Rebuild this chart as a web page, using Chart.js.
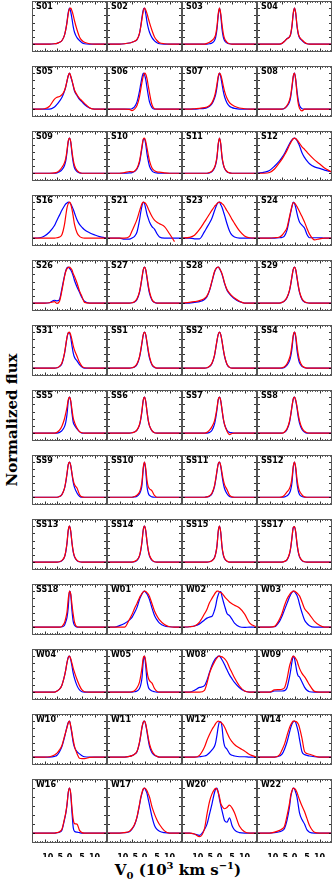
<!DOCTYPE html>
<html>
<head>
<meta charset="utf-8">
<title>Line profiles</title>
<script src="https://cdn.jsdelivr.net/npm/chart.js@4.4.1/dist/chart.umd.min.js"></script>
<style>
  body { margin: 0; background: #fff; }
  #fig { position: relative; width: 332px; height: 879px; overflow: hidden; }
  #fig canvas { position: absolute; display: block; }
  .name {
    position: absolute; z-index: 2;
    font: bold 8px "DejaVu Sans", sans-serif; line-height: 10px; color: #000;
  }
  .ytitle {
    position: absolute; left: 12px; top: 420px; white-space: nowrap;
    transform: translate(-50%, -50%) rotate(-90deg);
    font: bold 15px "DejaVu Serif", serif; color: #000;
  }
  .xtitle {
    position: absolute; left: 178px; top: 870px; white-space: nowrap;
    transform: translate(-50%, -50%);
    font: bold 15px "DejaVu Serif", serif; color: #000;
  }
  .xtitle sub, .xtitle sup { font-size: 10px; }
</style>
</head>
<body>
<div id="fig">
  <div class="ytitle">Normalized flux</div>
  <div class="xtitle">V<sub>0</sub> (10<sup>3</sup> km s<sup>−1</sup>)</div>
</div>
<script>
// ─── DATA ─────────────────────────────────────────────────────────
// velocity grid shared by every profile (10^3 km/s)
const velocity = [-15,-12,-10,-8, -6,-5,-4,-3, -2,-1.5,-1,-0.5, 0, 0.5,1,1.5,2, 3,4,5,6, 8,10,12,15];
const xTickValues = [-10, -5, 0, 5, 10];

// panel order: 13 rows x 4 columns
const panelNames = [
  "S01","S02","S03","S04",
  "S05","S06","S07","S08",
  "S09","S10","S11","S12",
  "S16","S21","S23","S24",
  "S26","S27","S28","S29",
  "S31","SS1","SS2","SS4",
  "SS5","SS6","SS7","SS8",
  "SS9","SS10","SS11","SS12",
  "SS13","SS14","SS15","SS17",
  "SS18","W01","W02","W03",
  "W04","W05","W08","W09",
  "W10","W11","W12","W14",
  "W16","W17","W20","W22"
];

// blue profile, one row per panel
const blueFlux = [
  [0,0,0,0, .01,.02,.05,.1, .25,.4,.62,.88, 1, .9,.7,.48,.33, .18,.1,.04,.01, 0,0,0,0],
  [0,0,0,.01, .03,.05,.08,.12, .3,.5,.75,.95, 1, .85,.62,.45,.33, .18,.09,.04,.01, 0,0,0,0],
  [0,0,0,0, 0,0,.01,.03, .1,.2,.42,.8, 1, .8,.42,.2,.1, .03,.01,0,0, 0,0,0,0],
  [0,0,0,0, 0,.02,.08,.15, .2,.28,.5,.85, 1, .85,.5,.28,.18, .1,.04,.01,0, 0,0,0,0],
  [0,0,0,0, .06,.13,.22,.33, .5,.62,.78,.93, 1, .9,.78,.64,.5, .38,.27,.2,.13, .03,0,0,0],
  [0,0,0,0, 0,.01,.06,.2, .5,.7,.88,1, .96, .82,.6,.38,.2, .04,0,0,0, 0,0,0,0],
  [0,0,0,.01, .02,.04,.08,.15, .3,.42,.62,.88, 1, .9,.7,.5,.35, .17,.08,.04,.02, 0,0,0,0],
  [0,0,0,0, 0,0,.02,.08, .2,.35,.6,.9, 1, .82,.5,.25,.1, .01,0,0,0, 0,0,0,0],
  [0,0,0,0, 0,.01,.04,.1, .22,.35,.6,.9, 1, .88,.55,.3,.15, .05,.01,0,0, 0,0,0,0],
  [0,0,0,0, .01,.02,.05,.12, .3,.5,.72,.95, .98, .82,.55,.35,.2, .07,.02,.01,0, 0,0,0,0],
  [0,0,0,0, 0,0,.01,.05, .15,.25,.45,.82, 1, .82,.45,.25,.14, .04,.01,0,0, 0,0,0,0],
  [0,.03,.08,.2, .35,.45,.56,.7, .84,.9,.95,.99, 1, .98,.93,.86,.78, .58,.45,.35,.27, .18,.14,.09,.04],
  [0,.01,.06,.17, .35,.5,.64,.78, .9,.95,.98,1, .99, .95,.88,.8,.7, .51,.38,.3,.23, .15,.09,.04,0],
  [0,0,0,-.03, -.03,0,.05,.17, .5,.72,.9,1, .96, .82,.66,.55,.45, .32,.25,.12,.03, 0,0,0,0],
  [0,0,-.02,-.02, .18,.3,.42,.56, .76,.86,.94,.99, 1, .93,.86,.75,.64, .4,.2,.08,.03, 0,0,0,0],
  [0,0,0,0, .01,.02,.06,.22, .55,.72,.88,1, .96, .85,.69,.55,.45, .36,.28,.1,.01, .01,.01,0,0],
  [0,0,0,.01, .08,.06,.1,.42, .76,.9,.98,1, .97, .92,.85,.75,.63, .45,.3,.15,.05, 0,0,0,0],
  [0,0,0,0, 0,.01,.03,.1, .3,.48,.7,.92, 1, .92,.7,.45,.27, .08,.02,0,0, 0,0,0,0],
  [0,0,.02,.04, .1,.18,.35,.6, .86,.94,.99,1, .96, .89,.8,.68,.55, .36,.26,.18,.12, .04,0,0,0],
  [0,0,0,0, 0,.02,.06,.15, .35,.52,.74,.94, 1, .92,.7,.47,.3, .1,.03,.01,0, 0,0,0,0],
  [0,0,0,0, 0,.01,.04,.13, .4,.62,.85,.98, .98, .85,.62,.42,.3, .2,.1,.03,0, 0,0,0,0],
  [0,0,0,0, 0,.01,.03,.1, .3,.48,.7,.92, 1, .92,.7,.46,.28, .09,.02,0,0, 0,0,0,0],
  [0,0,0,0, 0,.01,.04,.13, .35,.55,.76,.94, 1, .93,.75,.52,.33, .1,.02,0,0, 0,0,0,0],
  [0,0,0,0, 0,0,.02,.08, .2,.33,.55,.88, 1, .85,.5,.28,.15, .05,.01,0,0, 0,0,0,0],
  [0,0,0,0, 0,0,.02,.07, .18,.3,.52,.88, 1, .88,.55,.3,.22, .12,.04,0,0, 0,0,0,0],
  [0,0,0,0, 0,.01,.03,.08, .22,.38,.62,.92, 1, .88,.6,.35,.2, .06,.01,0,0, 0,0,0,0],
  [0,0,0,0, 0,0,.02,.08, .25,.42,.66,.93, 1, .9,.65,.4,.24, .08,.02,.01,0, 0,0,0,0],
  [0,0,0,0, 0,0,.02,.1, .3,.5,.74,.95, 1, .9,.7,.45,.28, .1,.03,0,0, 0,0,0,0],
  [0,0,0,0, 0,0,.02,.08, .25,.42,.66,.93, 1, .9,.65,.42,.28, .12,.03,0,0, 0,0,0,0],
  [0,0,0,0, 0,0,.01,.03, .1,.18,.35,.8, 1, .75,.3,.12,.05, .01,0,0,0, 0,0,0,0],
  [0,0,0,0, 0,.01,.03,.1, .3,.5,.74,.95, 1, .88,.62,.4,.25, .1,.02,0,0, 0,0,0,0],
  [0,0,0,0, 0,0,.01,.04, .12,.22,.42,.85, 1, .8,.4,.18,.08, .02,0,0,0, 0,0,0,0],
  [0,0,0,0, 0,0,.01,.04, .14,.28,.52,.88, 1, .85,.52,.28,.15, .04,.01,0,0, 0,0,0,0],
  [0,0,0,0, 0,0,.01,.05, .17,.32,.56,.9, 1, .87,.56,.32,.17, .05,.01,0,0, 0,0,0,0],
  [0,0,0,0, 0,0,.01,.04, .13,.24,.45,.86, 1, .82,.42,.2,.1, .02,0,0,0, 0,0,0,0],
  [0,0,0,0, 0,0,.02,.06, .22,.4,.68,.96, .98, .82,.5,.28,.15, .04,.01,0,0, 0,0,0,0],
  [0,0,0,0, 0,0,0,.01, .05,.15,.27,.55, 1, .9,.45,.15,.05, 0,0,0,0, 0,0,0,0],
  [0,0,.04,.1, .2,.27,.4,.55, .77,.85,.92,.98, 1, .97,.92,.85,.77, .53,.32,.2,.11, .03,.01,0,0],
  [0,.01,.03,.09, .2,.25,.28,.3, .47,.6,.78,.9, .98, .99,.85,.72,.6, .38,.32,.22,.11, .01,-.01,0,0],
  [0,0,0,.01, .16,.3,.48,.66, .84,.91,.97,1, .98, .94,.88,.78,.64, .4,.2,.1,.04, 0,0,0,0],
  [0,0,0,0, 0,.03,.08,.2, .45,.62,.82,.97, 1, .9,.72,.52,.38, .18,.06,.01,0, 0,0,0,0],
  [0,0,0,0, 0,0,.01,.03, .1,.2,.4,.85, 1, .72,.32,.15,.08, .03,.01,0,0, 0,0,0,0],
  [0,0,.05,.13, .18,.33,.55,.75, .89,.94,.97,1, 1, .96,.9,.84,.77, .62,.48,.37,.27, .12,.03,0,0],
  [0,0,0,.03, .03,.03,.04,.12, .42,.62,.85,1, .93, .75,.55,.45,.42, .28,.14,.05,.01, 0,0,0,0],
  [0,0,0,0, .02,.05,.15,.3, .55,.7,.85,.96, 1, .85,.62,.4,.27, .15,.09,.04,.01, 0,0,0,0],
  [0,0,0,0, .02,.04,.08,.15, .4,.6,.82,.97, 1, .9,.7,.48,.3, .12,.05,.02,0, 0,0,0,0],
  [0,0,0,.01, .03,.06,.12,.2, .3,.42,.62,.85, .98, .98,.84,.5,.32, .22,.1,.05,.03, .01,.01,0,0],
  [0,0,0,0, .03,.08,.22,.42, .69,.82,.92,.98, 1, .96,.84,.7,.5, .15,.07,.05,.03, .01,0,0,0],
  [0,0,0,0, 0,.01,.02,.07, .3,.43,.62,.9, 1, .85,.45,.12,.04, .02,.01,0,0, 0,0,0,0],
  [0,0,0,.01, .03,.09,.18,.35, .62,.77,.88,.97, 1, .95,.88,.75,.62, .36,.17,.08,.04, .01,0,0,0],
  [0,0,-.02,-.05, .08,.2,.42,.65, .9,.98,1,.9, .75, .62,.5,.38,.28, .24,.34,.17,.07, .01,0,0,0],
  [0,0,0,.01, .03,.05,.1,.28, .58,.8,.93,1, .98, .9,.8,.62,.45, .3,.2,.07,.02, 0,0,0,0]
];

// red profile, one row per panel
const redFlux = [
  [0,0,0,0, .01,.02,.05,.1, .25,.4,.6,.85, .98, 1,.92,.8,.65, .4,.2,.1,.05, .01,0,0,0],
  [0,0,0,.01, .03,.05,.08,.13, .3,.48,.7,.92, 1, .95,.85,.72,.6, .38,.2,.1,.04, .01,0,0,0],
  [0,0,0,0, 0,.02,.05,.1, .18,.28,.5,.85, 1, .85,.55,.3,.16, .05,.01,0,0, 0,0,0,0],
  [0,0,0,0, 0,.02,.08,.15, .2,.3,.52,.86, 1, .86,.52,.3,.2, .12,.05,.01,0, 0,0,0,0],
  [0,0,.01,.08, .28,.33,.35,.4, .52,.63,.78,.93, 1, .92,.8,.66,.53, .4,.3,.23,.16, .04,0,0,0],
  [0,0,0,0, -.01,-.04,0,.1, .35,.55,.75,.92, 1, .97,.85,.65,.45, .12,.01,0,0, 0,0,0,0],
  [0,0,.01,.02, .04,.06,.1,.18, .35,.5,.7,.92, 1, .95,.82,.65,.5, .3,.18,.12,.08, .03,.01,0,0],
  [0,0,0,0, 0,0,.02,.1, .25,.4,.65,.92, 1, .8,.42,.15,.02, -.05,0,0,0, 0,0,0,0],
  [0,0,0,0, .01,.03,.08,.17, .3,.42,.65,.92, 1, .9,.62,.38,.22, .08,.02,0,0, 0,0,0,0],
  [0,0,0,.02, .05,.04,.06,.14, .35,.55,.78,.97, 1, .9,.72,.52,.35, .15,.07,.04,.03, .01,0,0,0],
  [0,0,0,0, 0,0,.02,.06, .17,.28,.48,.84, 1, .84,.48,.27,.15, .05,.01,0,0, 0,0,0,0],
  [0,0,.02,.12, .3,.4,.52,.65, .8,.87,.93,.98, 1, .98,.95,.9,.85, .75,.68,.6,.52, .38,.27,.15,.03],
  [0,0,0,0, 0,.01,.03,.1, .38,.62,.84,.96, 1, .95,.8,.6,.38, .15,.05,.01,0, 0,0,0,0],
  [0,0,0,0, .05,.2,.35,.52, .75,.86,.96,1, .99, .96,.9,.82,.74, .6,.5,.44,.4, .32,.12,-.1,null],
  [0,.02,.08,.24, .45,.56,.67,.78, .88,.92,.96,.99, 1, .99,.96,.93,.88, .76,.65,.52,.41, .2,.06,.01,0],
  [0,0,0,.01, .03,.08,.17,.29, .6,.75,.9,.99, .98, .93,.88,.81,.74, .6,.45,.27,.11, -.05,-.02,0,0],
  [0,0,0,.01, .04,-.01,.05,.36, .74,.88,.96,.99, 1, .97,.92,.82,.74, .56,.34,.18,.02, 0,0,0,0],
  [0,0,0,0, 0,.01,.04,.12, .32,.5,.72,.93, 1, .93,.72,.5,.32, .1,.02,0,0, 0,0,0,0],
  [0,.02,.04,.07, .13,.2,.36,.62, .88,.95,.99,1, .97, .9,.82,.7,.57, .38,.28,.2,.14, .05,0,0,0],
  [0,0,0,0, 0,.02,.06,.16, .36,.54,.75,.94, 1, .93,.72,.5,.32, .12,.04,.01,0, 0,0,0,0],
  [0,0,0,0, 0,.01,.05,.15, .42,.64,.86,.98, 1, .92,.78,.62,.5, .33,.16,.05,.01, 0,0,0,0],
  [0,0,0,0, 0,.01,.04,.12, .32,.5,.72,.93, 1, .93,.72,.5,.32, .1,.03,0,0, 0,0,0,0],
  [0,0,0,0, 0,.01,.05,.14, .36,.56,.77,.94, 1, .93,.76,.54,.35, .11,.02,0,0, 0,0,0,0],
  [0,0,0,0, 0,.01,.04,.12, .28,.42,.65,.92, 1, .9,.62,.38,.22, .07,.02,0,0, 0,0,0,0],
  [0,0,0,0, 0,.02,.08,.2, .4,.55,.72,.93, 1, .9,.65,.42,.3, .14,.04,.01,0, 0,0,0,0],
  [0,0,0,0, 0,.01,.03,.09, .24,.4,.64,.92, 1, .88,.6,.36,.21, .07,.01,0,0, 0,0,0,0],
  [0,0,0,0, 0,.02,.08,.18, .34,.5,.7,.94, 1, .9,.66,.42,.25, .05,-.04,-.01,0, 0,0,0,0],
  [0,0,0,0, 0,0,.03,.12, .33,.52,.75,.95, 1, .92,.74,.52,.35, .14,.05,.01,0, 0,0,0,0],
  [0,0,0,0, 0,0,.02,.08, .26,.44,.68,.93, 1, .9,.68,.48,.36, .26,.08,.01,0, 0,0,0,0],
  [0,0,0,0, 0,0,.02,.06, .15,.25,.45,.85, 1, .82,.48,.3,.24, .18,.05,0,0, 0,0,0,0],
  [0,0,0,0, 0,.01,.04,.12, .33,.53,.76,.95, 1, .9,.7,.5,.36, .22,.06,.01,0, 0,0,0,0],
  [0,0,0,0, 0,.01,.06,.15, .25,.35,.55,.88, 1, .85,.52,.3,.18, .07,.01,0,0, 0,0,0,0],
  [0,0,0,0, 0,0,.01,.05, .15,.3,.54,.89, 1, .86,.54,.3,.16, .05,.01,0,0, 0,0,0,0],
  [0,0,0,0, 0,0,.02,.06, .18,.34,.58,.9, 1, .88,.58,.34,.19, .06,.01,0,0, 0,0,0,0],
  [0,0,0,0, 0,0,.01,.04, .12,.24,.46,.86, 1, .83,.44,.22,.11, .03,0,0,0, 0,0,0,0],
  [0,0,0,0, 0,0,.02,.07, .24,.42,.7,.96, .99, .84,.52,.3,.16, .05,.01,0,0, 0,0,0,0],
  [0,0,0,0, 0,0,0,.02, .12,.25,.42,.78, 1, .92,.62,.35,.14, .01,0,0,0, 0,0,0,0],
  [0,0,0,0, .22,.35,.52,.66, .82,.88,.94,.98, 1, .99,.96,.92,.85, .65,.45,.31,.2, .07,.01,0,0],
  [0,.01,.03,.14, .37,.5,.68,.8, .92,.97,1,1, .98, .96,.94,.9,.85, .77,.7,.65,.61, .53,.37,.12,0],
  [0,0,0,.02, .22,.38,.6,.78, .9,.95,.98,1, 1, .98,.95,.91,.87, .7,.52,.43,.35, .16,.05,0,0],
  [0,0,0,0, 0,.03,.08,.2, .45,.62,.82,.96, 1, .93,.8,.66,.55, .35,.18,.06,.01, 0,0,0,0],
  [0,0,0,0, 0,.01,.04,.12, .28,.45,.68,.95, 1, .85,.58,.4,.32, .25,.1,.02,0, 0,0,0,0],
  [0,0,0,0, .05,.25,.52,.7, .84,.9,.95,.99, 1, .99,.98,.96,.93, .84,.68,.54,.4, .17,.03,0,0],
  [0,0,0,.06, .07,.08,.12,.36, .72,.84,.95,1, .98, .93,.87,.76,.66, .52,.43,.32,.2, .02,0,0,0],
  [0,0,0,.01, .06,.11,.2,.33, .58,.7,.82,.95, 1, .86,.68,.47,.3, .1,-.03,-.04,-.04, -.01,0,0,0],
  [0,0,0,0, .02,.04,.08,.16, .42,.62,.84,.97, 1, .92,.74,.54,.37, .17,.07,.02,0, 0,0,0,0],
  [0,0,0,.05, .28,.47,.63,.77, .88,.94,.98,1, .99, .97,.94,.9,.84, .68,.53,.43,.35, .25,.17,.07,0],
  [0,0,0,0, .06,.2,.36,.6, .82,.9,.96,1, 1, .99,.97,.92,.82, .52,.16,.1,.08, .03,0,0,0],
  [0,0,0,0, 0,.01,.03,.09, .32,.45,.64,.9, 1, .88,.55,.3,.21, .2,.06,.01,0, 0,0,0,0],
  [0,0,0,.01, .04,.1,.19,.36, .64,.79,.9,.98, 1, .98,.94,.87,.8, .58,.42,.29,.19, .05,0,0,0],
  [0,0,-.02,-.08, .1,.42,.7,.87, .97,.99,.97,.9, .8, .66,.6,.56,.54, .57,.62,.56,.45, .15,.03,0,0],
  [0,0,0,.02, .06,.09,.15,.38, .66,.84,.94,1, .99, .96,.9,.82,.74, .6,.48,.32,.17, .02,0,0,0]
];

// ─── LAYOUT ───────────────────────────────────────────────────────
const GRID_LEFT = 32, GRID_TOP = 1, COL_W = 75, ROW_H = 64.8;
const NCOLS = 4, NROWS = 13;
const Y_MIN = -0.22, Y_MAX = 1.2;
const AXIS_H = 14;

// quick sanity check on typed data
[blueFlux, redFlux].forEach(set => set.forEach((row, i) => {
  if (row.length !== velocity.length) throw new Error(panelNames[i] + " has " + row.length + " values");
}));

// ─── INWARD TICKS + FRAME ─────────────────────────────────────────
const panelFrame = {
  id: "panelFrame",
  afterDraw(chart) {
    const { ctx, chartArea: a, scales: { x, y } } = chart;
    ctx.save();
    ctx.strokeStyle = "#000";
    ctx.lineWidth = 0.8;
    ctx.beginPath();
    for (let v = -14; v <= 14; v++) {
      const px = Math.round(x.getPixelForValue(v)) + 0.5;
      const len = v % 5 === 0 ? 3.5 : 1.8;
      ctx.moveTo(px, a.top);    ctx.lineTo(px, a.top + len);
      ctx.moveTo(px, a.bottom); ctx.lineTo(px, a.bottom - len);
    }
    for (let k = 0; k <= 5; k++) {
      const py = Math.round(y.getPixelForValue(k * 0.2)) + 0.5;
      ctx.moveTo(a.left, py);  ctx.lineTo(a.left + 3, py);
      ctx.moveTo(a.right, py); ctx.lineTo(a.right - 3, py);
    }
    ctx.stroke();
    ctx.strokeStyle = "#555";
    ctx.lineWidth = 1;
    ctx.strokeRect(a.left + 0.5, a.top + 0.5, a.width - 1, a.height - 1);
    ctx.restore();
  }
};

function toPoints(arr) {
  return velocity.map((v, i) => ({ x: v, y: arr[i] }));
}

// matplotlib-style tick text with a real minus sign
function tickText(v) {
  return v < 0 ? "\u2212" + Math.abs(v) : String(v);
}

// ─── BUILD PANELS ─────────────────────────────────────────────────
const fig = document.getElementById("fig");

panelNames.forEach((name, i) => {
  const r = Math.floor(i / NCOLS), c = i % NCOLS;
  const isBottom = r === NROWS - 1;
  const left = GRID_LEFT + c * COL_W;
  const top = Math.round(GRID_TOP + r * ROW_H);
  const h = Math.round(GRID_TOP + (r + 1) * ROW_H) - top;

  const canvas = document.createElement("canvas");
  canvas.width = COL_W;
  canvas.height = h + (isBottom ? AXIS_H : 0);
  canvas.style.left = left + "px";
  canvas.style.top = top + "px";
  fig.appendChild(canvas);

  const label = document.createElement("div");
  label.className = "name";
  label.textContent = name;
  label.style.left = (left + 4) + "px";
  label.style.top = (top + 1) + "px";
  fig.appendChild(label);

  new Chart(canvas.getContext("2d"), {
    type: "line",
    data: {
      datasets: [
        { data: toPoints(redFlux[i]),  borderColor: "#ff0000", order: 1 },
        { data: toPoints(blueFlux[i]), borderColor: "#0000ff", order: 2 }
      ]
    },
    options: {
      responsive: false,
      animation: false,
      events: [],
      layout: { padding: 0 },
      elements: {
        point: { radius: 0 },
        line:  { borderWidth: 1.2, cubicInterpolationMode: "monotone", fill: false }
      },
      plugins: { legend: { display: false }, tooltip: { enabled: false } },
      scales: {
        x: {
          type: "linear", min: -15, max: 15,
          display: isBottom,
          grid: { display: false },
          border: { display: false },
          afterBuildTicks: s => { s.ticks = xTickValues.map(v => ({ value: v })); },
          afterFit: s => { s.height = AXIS_H; },
          ticks: {
            autoSkip: false, maxRotation: 0, minRotation: 0, padding: 2,
            color: "#000", font: { family: "DejaVu Sans", size: 8, weight: "bold" },
            callback: tickText
          }
        },
        y: { min: Y_MIN, max: Y_MAX, display: false }
      }
    },
    plugins: [panelFrame]
  });
});
</script>
</body>
</html>
